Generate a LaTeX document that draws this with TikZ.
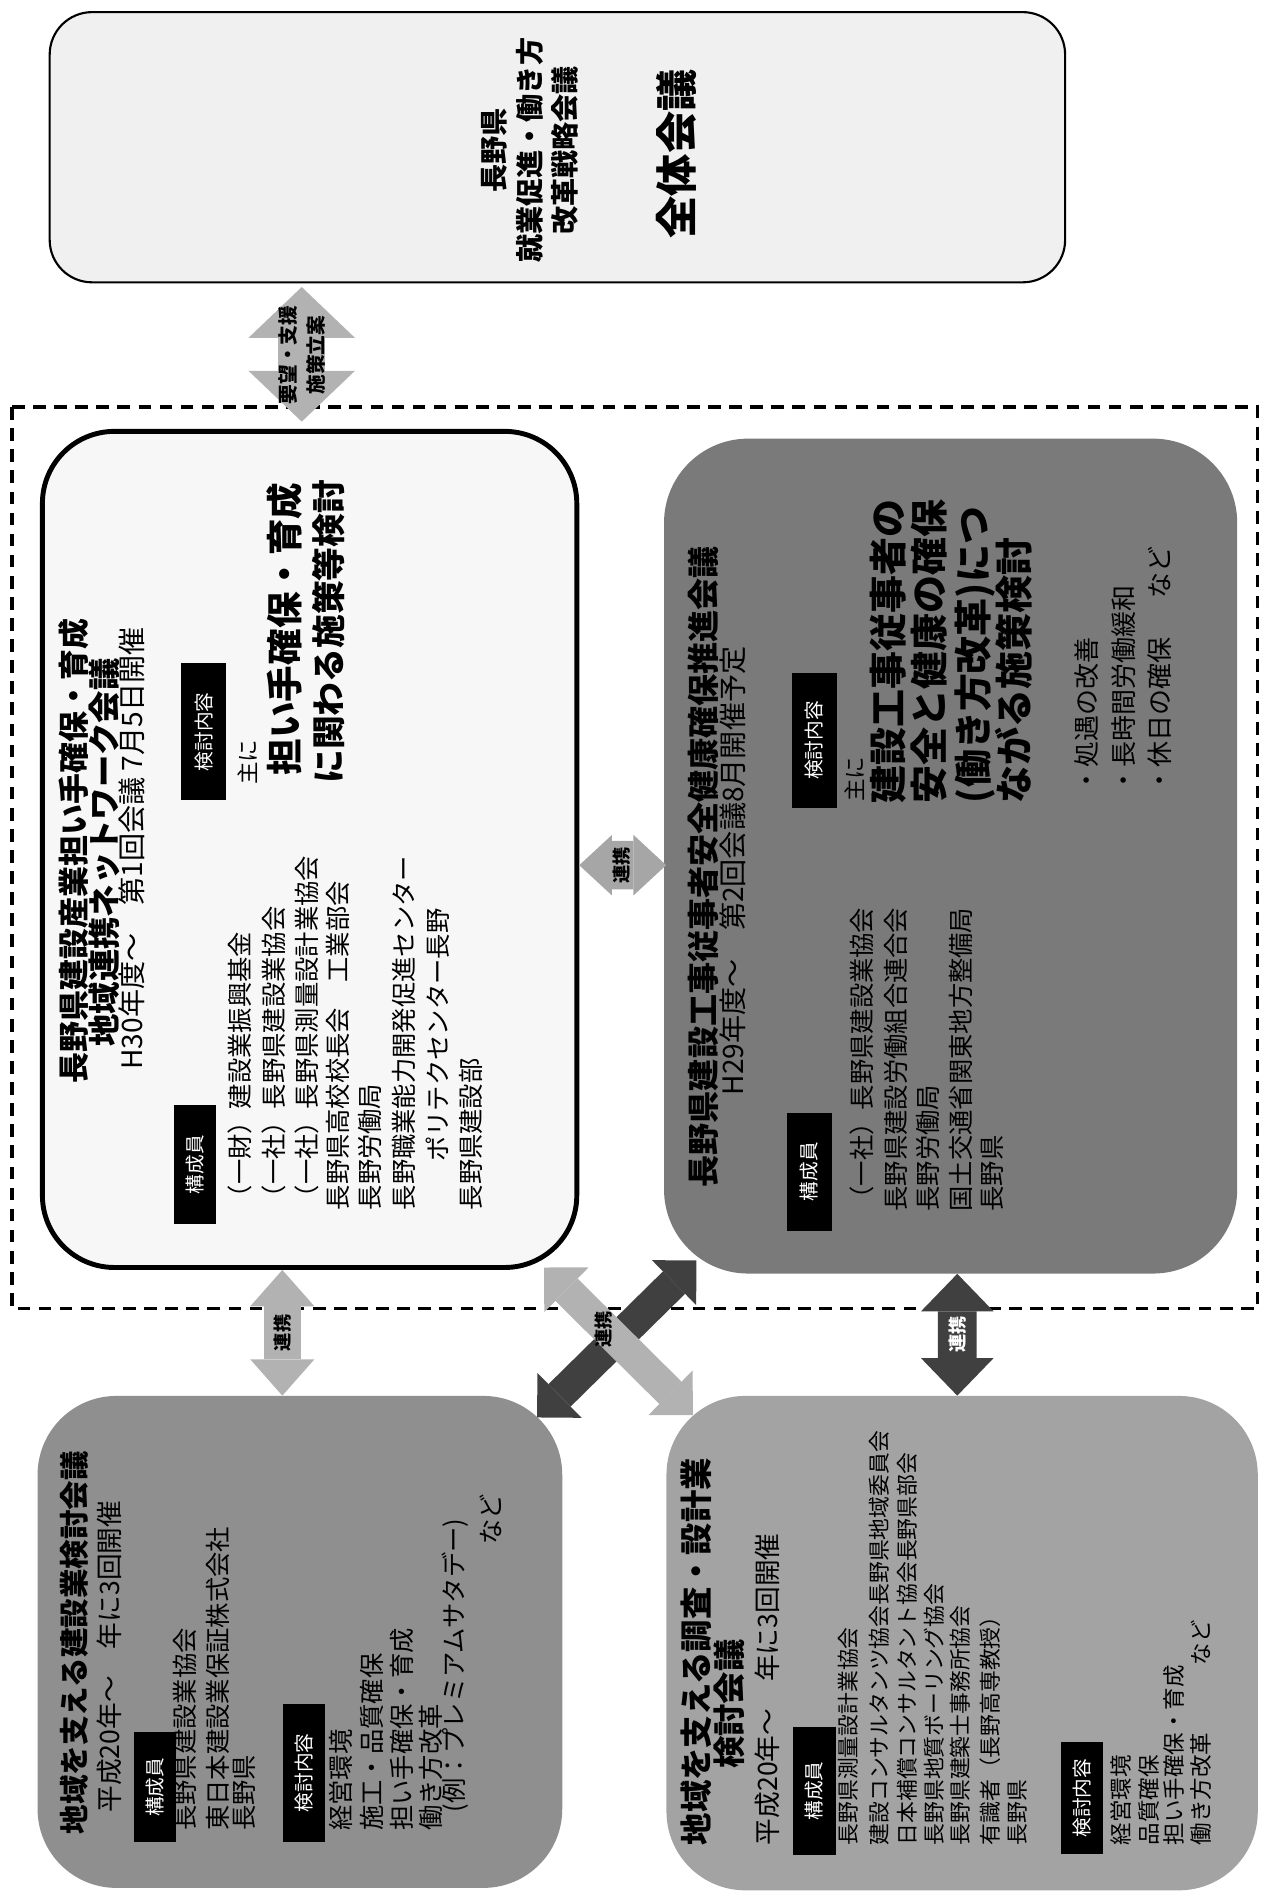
\documentclass[tikz,border=0pt]{standalone}
\usepackage{fontspec}
\setmainfont{Noto Sans CJK JP}
\usetikzlibrary{arrows.meta,calc}

\newcommand{\fsz}[1]{\fontsize{#1}{#1}\selectfont}
\newcommand{\px}{0.30286mm}

\tikzset{
  vt/.style={rotate=90, anchor=west, inner sep=0pt},
  ttl/.style={vt, font=\bfseries\fsz{#1}},
  txt/.style={vt, font=\fsz{#1}},
  tag/.style n args={2}{rotate=90, fill=black, text=white, inner sep=0pt,
    minimum width={#1*\px}, minimum height={#2*\px}, font=\fsz{14}},
  panel/.style n args={3}{rectangle, rounded corners=#3, inner sep=0pt,
    minimum width={#1*\px}, minimum height={#2*\px}},
  fat/.style n args={3}{line width=#1,
    {Triangle[length=#3, width=#2, line width=0pt]}-{Triangle[length=#3, width=#2, line width=0pt]}},
  rk/.style={rotate=90, inner sep=0pt, font=\bfseries\fsz{13}},
}

\begin{document}
\begin{tikzpicture}[x=\px, y=-\px]
  \useasboundingbox (0,0) rectangle (1050,1568);
  % 点線枠
  \draw[line width=2.4pt, dash pattern=on 9pt off 6pt] (10,336) rectangle (1038,1080);

  % 全体会議
  \node[panel={838}{223}{10.6mm}, draw, line width=1.5pt, fill=black!6] (zk) at (460,121.5) {};
  \node[ttl=20, anchor=center] (zk1) at (408,124) {長野県};
  \node[ttl=20, anchor=center] (zk2) at (437,124) {就業促進・働き方};
  \node[ttl=20, anchor=center] (zk3) at (466,124) {改革戦略会議};
  \node[ttl=30, anchor=center] (zk4) at (558,127) {全体会議};

  % 担い手確保・育成 地域連携ネットワーク会議
  \node[panel={441}{690}{18mm}, draw, line width=3.5pt, fill=black!3] (ul) at (255.5,701) {};
  \node[ttl=22] (ul1) at (61,894) {長野県建設産業担い手確保・育成};
  \node[ttl=23] (ul2) at (86,864) {地域連携ネットワーク会議};
  \node[txt=20] (ul3) at (109,883) {H30年度～　第1回会議 7月5日開催};
  \node[tag={98}{34}] (ulA) at (161,961) {構成員};
  \node[tag={113}{37}] (ulB) at (168,604) {検討内容};
  \node[txt=18] (ulm1) at (198,999) {（一財）建設業振興基金};
  \node[txt=18] (ulm2) at (226,999) {（一社）長野県建設業協会};
  \node[txt=18] (ulm3) at (253,999) {（一社）長野県測量設計業協会};
  \node[txt=18] (ulm4) at (279,999) {長野県高校校長会　工業部会};
  \node[txt=18] (ulm5) at (305,999) {長野労働局};
  \node[txt=18] (ulm6) at (333,999) {長野職業能力開発促進センター};
  \node[txt=18] (ulm7) at (361,959) {ポリテクセンター長野};
  \node[txt=18] (ulm8) at (389,999) {長野県建設部};
  \node[txt=16] (ulc1) at (204,648) {主に};
  \node[ttl=26] (ulc2) at (235,640) {担い手確保・育成};
  \node[ttl=24] (ulc3) at (271,647) {に関わる施策等検討};

  % 安全健康確保推進会議
  \node[panel={473}{689}{21mm}, fill=black!52] (rt) at (784.5,706.5) {};
  \node[ttl=22.8] (rt1) at (580,980) {長野県建設工事従事者安全健康確保推進会議};
  \node[txt=20] (rt2) at (605,904) {H29年度～　第2回会議8月開催予定};
  \node[tag={97}{37}] (rtA) at (668,967) {構成員};
  \node[tag={112}{37}] (rtB) at (672,611) {検討内容};
  \node[txt=18] (rtm1) at (711,1000) {（一社）長野県建設業協会};
  \node[txt=18] (rtm2) at (739,1000) {長野県建設労働組合連合会};
  \node[txt=18] (rtm3) at (766,1000) {長野労働局};
  \node[txt=18] (rtm4) at (793,1000) {国土交通省関東地方整備局};
  \node[txt=18] (rtm5) at (819,1000) {長野県};
  \node[txt=16] (rtc1) at (705,662) {主に};
  \node[ttl=27] (rtc2) at (733,663) {建設工事従事者の};
  \node[ttl=27] (rtc3) at (767,663) {安全と健康の確保};
  \node[ttl=27] (rtc4) at (805,663) {(働き方改革)につ};
  \node[ttl=27] (rtc5) at (837,663) {ながる施策検討};
  \node[txt=18.5] (rtc6) at (897,655) {・処遇の改善};
  \node[txt=18.5] (rtc7) at (927,655) {・長時間労働緩和};
  \node[txt=18.5] (rtc8) at (957,655) {・休日の確保\hspace{1.5em}など};

  % 建設業検討会議
  \node[panel={433}{406}{19.7mm}, fill=black!44] (bl) at (247.5,1355) {};
  \node[ttl=21] (bl1) at (61,1514) {地域を支える建設業検討会議};
  \node[txt=19] (bl2) at (90,1496) {平成20年～　年に3回開催};
  \node[tag={91}{35}] (blA) at (128,1475) {構成員};
  \node[txt=18] (blm1) at (153,1511) {長野県建設業協会};
  \node[txt=18] (blm2) at (180,1511) {東日本建設業保証株式会社};
  \node[txt=18] (blm3) at (202,1511) {長野県};
  \node[tag={114}{35}] (blB) at (251,1463) {検討内容};
  \node[txt=18] (blc1) at (281,1511) {経営環境};
  \node[txt=18] (blc2) at (307,1511) {施工・品質確保};
  \node[txt=18] (blc3) at (332,1511) {担い手確保・育成};
  \node[txt=18] (blc4) at (356,1511) {働き方改革};
  \node[txt=18] (blc5) at (376,1496) {(例：プレミアムサタデー)};
  \node[txt=18] (blc6) at (405,1275) {など};

  % 調査・設計業検討会議
  \node[panel={488}{408}{19.7mm}, fill=black!36] (br) at (794,1356) {};
  \node[ttl=23] (br1) at (575,1523) {地域を支える調査・設計業};
  \node[ttl=23] (br2) at (602,1460) {検討会議};
  \node[txt=19] (br3) at (633,1523) {平成20年～　年に3回開催};
  \node[tag={105}{35}] (brA) at (672,1478) {構成員};
  \node[txt=15.5] (brm1) at (700,1523) {長野県測量設計業協会};
  \node[txt=15.5] (brm2) at (726,1523) {建設コンサルタンツ協会長野県地域委員会};
  \node[txt=15.5] (brm3) at (749,1523) {日本補償コンサルタント協会長野県部会};
  \node[txt=15.5] (brm4) at (771,1523) {長野県地質ボーリング協会};
  \node[txt=15.5] (brm5) at (792,1523) {長野県建築士事務所協会};
  \node[txt=15.5] (brm6) at (817,1523) {有識者（長野高専教授）};
  \node[txt=15.5] (brm7) at (840,1523) {長野県};
  \node[tag={92}{35}] (brB) at (893,1484) {検討内容};
  \node[txt=16] (brc1) at (925,1523) {経営環境};
  \node[txt=16] (brc2) at (948,1523) {品質確保};
  \node[txt=16] (brc3) at (969,1523) {担い手確保・育成};
  \node[txt=16] (brc4) at (991,1523) {働き方改革\hspace{3em}など};

  % 矢印
  \draw[fat={11.81mm}{26.65mm}{12.72mm}, black!30] ($(zk.south)+(-211,3)$) -- ($(ul.north)+(-6.5,-6)$);
  \node[rotate=90, align=center, font=\bfseries\fontsize{14}{20}\selectfont] (yb) at (249,293) {要望・支援\\施策立案};
  \draw[fat={9.09mm}{16.05mm}{9.09mm}, black!30] ($(ul.south)+(-22.5,0)$) -- ($(bl.north)+(-14.5,0)$);
  \node[rk] (rk1) at (233,1100) {連携};
  \draw[fat={9.69mm}{18.17mm}{9.39mm}, black!75] ($(rt.south)+(5.5,0)$) -- ($(br.north)+(-4,0)$);
  \node[rk, text=white] (rk2) at (790,1101) {連携};
  \draw[fat={12.11mm}{15.14mm}{8.18mm}, black!35] ($(ul.east)+(0,13)$) -- ($(rt.west)+(2,7.5)$);
  \node[rk] (rk3) at (513,714) {連携};
  \draw[fat={7.87mm}{15.75mm}{7.87mm}, black!75] ($(rt.south west)+(27,-11)$) -- ($(bl.north east)+(-21,18)$);
  \draw[fat={7.87mm}{15.75mm}{7.87mm}, black!30] ($(ul.south east)+(-29,-2)$) -- ($(br.north west)+(22,16)$);
  \node[rk] (rk4) at (498,1097) {連携};
\end{tikzpicture}
\end{document}
